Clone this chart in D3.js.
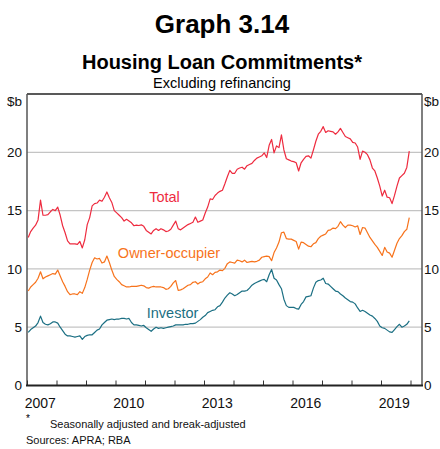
<!DOCTYPE html>
<html><head><meta charset="utf-8">
<script src="https://cdn.jsdelivr.net/npm/d3@7"></script>
<style>
html,body{margin:0;padding:0;background:#fff;}
svg text{font-family:"Liberation Sans",Arial,Helvetica,sans-serif;}
</style></head>
<body><svg id="c" width="440" height="449"></svg>
<script>
// ---- data (monthly, Jan 2007 – Dec 2019, $b) ----
const startYear = 2007;
const total = [
12.7,13.2,13.5,13.75,14.2,15.9,14.6,14.6,14.65,14.9,15.1,15.0,
15.3,14.6,13.7,13.1,12.4,12.15,12.15,12.15,12.1,12.35,11.8,12.5,
13.8,14.4,15.4,15.6,15.65,15.9,15.8,16.15,16.6,16.1,15.7,15.0,
14.8,14.6,14.4,14.1,14.25,14.1,13.95,13.7,13.75,13.72,13.78,13.65,
13.3,13.15,13.0,13.3,13.45,13.3,13.45,13.35,13.2,13.25,13.4,13.75,
14.1,13.45,13.35,13.5,13.65,13.8,13.9,14.0,14.45,14.0,14.1,14.2,
14.8,15.3,16.0,15.95,16.3,16.5,16.65,16.75,17.3,17.9,18.45,18.2,
18.2,18.55,18.65,18.72,18.55,18.85,18.95,19.05,19.3,19.5,19.6,19.7,
19.95,19.55,20.6,21.1,19.95,20.55,20.4,21.5,20.2,19.45,19.35,19.25,
19.2,19.1,18.4,19.1,19.4,19.65,19.7,19.5,20.2,20.95,21.55,21.8,
22.2,21.7,21.85,21.8,21.75,21.55,21.75,22.05,21.7,21.35,21.25,21.15,
20.85,20.8,20.45,19.4,20.1,20.0,19.8,19.35,18.65,18.4,17.8,17.1,
16.25,16.75,16.15,16.1,15.6,16.3,17.1,17.8,18.0,18.2,18.7,20.1];
const ownerOccupier = [
8.1,8.45,8.65,8.85,9.2,9.75,9.15,9.3,9.4,9.5,9.6,9.55,
9.9,9.4,8.9,8.5,8.05,7.8,7.85,7.85,7.8,8.05,7.9,8.4,
9.1,9.9,10.55,10.95,10.85,10.9,10.5,10.6,11.1,10.55,9.9,9.35,
9.1,8.9,8.65,8.55,8.45,8.45,8.5,8.5,8.5,8.55,8.6,8.55,
8.4,8.35,8.45,8.5,8.45,8.45,8.45,8.4,8.25,8.3,8.5,8.8,
9.0,8.15,8.2,8.3,8.45,8.6,8.65,8.85,8.9,8.7,8.85,8.9,
9.15,9.3,9.65,9.5,9.7,9.75,9.9,9.85,10.05,10.45,10.6,10.55,
10.5,10.75,10.7,10.6,10.75,10.55,10.6,10.65,10.6,10.65,10.75,11.0,
11.05,11.1,11.05,10.7,11.4,11.8,12.3,13.1,13.15,12.6,12.55,12.55,
12.45,12.35,11.7,12.3,12.25,12.1,11.95,11.9,12.15,12.25,12.6,12.8,
12.9,13.0,13.3,13.35,13.5,13.45,13.65,14.05,13.75,13.55,13.75,13.75,
13.7,13.6,13.7,12.95,13.55,13.5,13.1,12.7,12.4,12.1,11.85,11.5,
11.15,11.85,11.45,11.35,11.0,11.6,12.2,12.6,12.85,13.2,13.4,14.4];
const investor = [
4.55,4.8,4.95,5.1,5.4,5.95,5.4,5.25,5.2,5.3,5.45,5.45,
5.35,5.0,4.7,4.4,4.25,4.25,4.2,4.15,4.2,4.25,3.95,4.2,
4.3,4.35,4.35,4.55,4.75,4.85,5.2,5.4,5.6,5.65,5.7,5.65,
5.7,5.7,5.75,5.75,5.7,5.75,5.4,5.2,5.2,5.15,5.1,5.15,
4.95,4.8,4.65,4.85,5.0,4.9,4.95,4.9,4.95,5.0,5.05,5.1,
5.2,5.2,5.2,5.2,5.25,5.25,5.3,5.3,5.35,5.5,5.65,5.85,
6.0,6.25,6.35,6.45,6.5,6.75,6.85,7.15,7.5,7.75,7.95,7.85,
7.7,7.8,7.95,8.1,8.1,8.15,8.35,8.6,8.75,8.85,8.95,9.05,
9.1,8.9,9.5,9.95,9.2,9.05,8.65,8.3,7.4,6.85,6.7,6.7,
6.7,6.6,6.55,6.95,7.2,7.6,7.65,7.7,8.35,8.85,9.0,9.05,
9.2,8.75,8.7,8.5,8.3,8.1,8.05,7.85,7.7,7.5,7.35,7.2,
7.15,7.0,6.65,6.35,6.45,6.35,6.2,6.05,5.95,5.75,5.5,5.1,
4.95,4.9,4.75,4.6,4.55,4.8,5.05,5.25,5.0,5.1,5.25,5.55];
const yTicks = [0,5,10,15,20];
const yearLabels = [2007,2010,2013,2016,2019];
const seriesNames = ["Total","Owner-occupier","Investor"];

// ---- layout ----
const svg = d3.select("#c");
const L = 27, R = 422, T = 94, B = 385.5;
const x = d3.scaleLinear().domain([2007, 2007 + (R - L) / 29.5]).range([L, R]);
const y = d3.scaleLinear().domain([0, 25]).range([B, T]);
const colors = {"Total":"#ee2b3f","Owner-occupier":"#f7731c","Investor":"#1b6f83"};
const tOf = i => startYear + (i + 0.5) / 12;

// titles
svg.append("text").attr("x",222).attr("y",33).attr("text-anchor","middle")
  .attr("font-size",26).attr("font-weight","bold").text("Graph 3.14");
svg.append("text").attr("x",222).attr("y",69).attr("text-anchor","middle")
  .attr("font-size",20).attr("font-weight","bold").text("Housing Loan Commitments*");
svg.append("text").attr("x",222).attr("y",88).attr("text-anchor","middle")
  .attr("font-size",14.5).text("Excluding refinancing");

// gridlines
svg.append("g").selectAll("line").data(yTicks.filter(d=>d>0)).join("line")
  .attr("x1",L).attr("x2",R).attr("y1",d=>y(d)).attr("y2",d=>y(d))
  .attr("stroke","#c4c4c4").attr("stroke-width",1.3);

// frame
svg.append("line").attr("x1",L).attr("x2",R).attr("y1",T).attr("y2",T).attr("stroke","#222").attr("stroke-width",1.5);
svg.append("line").attr("x1",L).attr("x2",L).attr("y1",T).attr("y2",B).attr("stroke","#555").attr("stroke-width",1.5);
svg.append("line").attr("x1",R).attr("x2",R).attr("y1",T).attr("y2",B).attr("stroke","#555").attr("stroke-width",1.5);

// y axes
const yl = svg.append("g").attr("transform",`translate(${L},0)`)
  .call(d3.axisLeft(y).tickValues(yTicks).tickSize(0).tickPadding(5));
const yr = svg.append("g").attr("transform",`translate(${R},0)`)
  .call(d3.axisRight(y).tickValues(yTicks).tickSize(0).tickPadding(2));
[yl,yr].forEach(g=>{g.select(".domain").remove();
  g.selectAll("text").attr("font-size",13.5).attr("fill","#111")
   .attr("font-family","Liberation Sans, Arial, sans-serif");});
svg.append("text").attr("x",L-5).attr("y",y(25)+12).attr("text-anchor","end").attr("font-size",13.5).attr("fill","#111").text("$b");
svg.append("text").attr("x",R+2).attr("y",y(25)+12).attr("font-size",13.5).attr("fill","#111").text("$b");

// x axis
const xa = svg.append("g").attr("transform",`translate(0,${B})`)
  .call(d3.axisTop(x).tickValues(d3.range(2007,2021)).tickSize(5).tickFormat(""));
xa.select(".domain").remove();
xa.selectAll("line").attr("stroke","#333").attr("stroke-width",1);
svg.append("line").attr("x1",L-1).attr("x2",R+1).attr("y1",B).attr("y2",B).attr("stroke","#222").attr("stroke-width",2);
svg.append("g").selectAll("text").data(yearLabels).join("text")
  .attr("x",d=>x(d+0.45)).attr("y",B+22).attr("text-anchor","middle")
  .attr("font-size",14).attr("fill","#111").text(d=>d);

// lines
const line = d3.line().x((d,i)=>x(tOf(i))).y(d=>y(d));
const series = [["Total",total],["Owner-occupier",ownerOccupier],["Investor",investor]];
svg.append("g").selectAll("path").data(series).join("path")
  .attr("d",d=>line(d[1])).attr("fill","none")
  .attr("stroke",d=>colors[d[0]]).attr("stroke-width",1.2).attr("stroke-linejoin","round");

// series labels
const labelPos = {"Total":[2011.14,15.75],"Owner-occupier":[2010.08,10.9],"Investor":[2011.06,5.8]};
svg.append("g").selectAll("text").data(seriesNames).join("text")
  .attr("x",d=>x(labelPos[d][0])).attr("y",d=>y(labelPos[d][1]))
  .attr("font-size",14.5).attr("fill",d=>colors[d]).text(d=>d);

// notes
svg.append("text").attr("x",26).attr("y",422).attr("font-size",10).text("*");
svg.append("text").attr("x",50).attr("y",428).attr("font-size",11).attr("fill","#111").text("Seasonally adjusted and break-adjusted");
svg.append("text").attr("x",26).attr("y",444).attr("font-size",11).attr("fill","#111").text("Sources: APRA; RBA");
</script></body></html>
